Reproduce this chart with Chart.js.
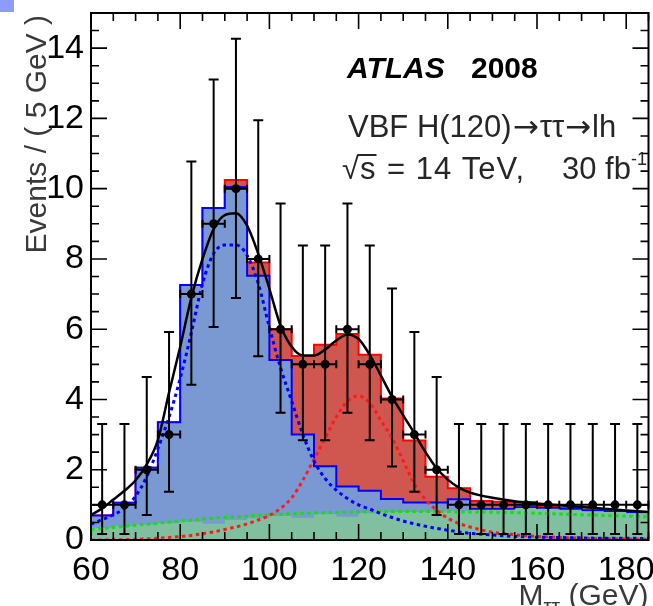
<!DOCTYPE html>
<html>
<head>
<meta charset="utf-8">
<script src="https://cdn.jsdelivr.net/npm/chart.js@4.4.1/dist/chart.umd.min.js"></script>
<style>
  html, body { margin: 0; padding: 0; background: #fff; }
  #wrap { position: relative; width: 653px; height: 606px; }
  #corner { position: absolute; left: 0; top: 0; width: 14px; height: 12px; background: #8c9cf8; }
</style>
</head>
<body>
<div id="wrap">
  <canvas id="chart" width="653" height="606"></canvas>
  <div id="corner"></div>
</div>
<script>
'use strict';

// bins of 5 GeV in M_tautau
const binEdges = [60, 65, 70, 75, 80, 85, 90, 95, 100, 105, 110, 115, 120, 125, 130, 135, 140, 145, 150, 155, 160, 165, 170, 175, 180, 185];
const binCenters = [62.5, 67.5, 72.5, 77.5, 82.5, 87.5, 92.5, 97.5, 102.5, 107.5, 112.5, 117.5, 122.5, 127.5, 132.5, 137.5, 142.5, 147.5, 152.5, 157.5, 162.5, 167.5, 172.5, 177.5, 182.5];

// pseudo-data and its (asymmetric) error bars
const dataCounts = [1, 1, 2, 3, 7, 9, 10, 8, 6, 5, 5, 6, 5, 4, 3, 2, 1, 1, 1, 1, 1, 1, 1, 1, 1];
const errLow = [0.17, 0.17, 0.71, 1.37, 4.42, 6.06, 6.89, 5.23, 3.62, 2.84, 2.84, 3.62, 2.84, 2.09, 1.37, 0.71, 0.17, 0.17, 0.17, 0.17, 0.17, 0.17, 0.17, 0.17, 0.17];
const errHigh = [3.3, 3.3, 4.64, 5.92, 10.77, 13.11, 14.27, 11.95, 9.58, 8.38, 8.38, 9.58, 8.38, 7.16, 5.92, 4.64, 3.3, 3.3, 3.3, 3.3, 3.3, 3.3, 3.3, 3.3, 3.3];

// stacked expectations: signal+Z+bkg (red), Z+bkg (blue), bkg (green)
const totalHist = [0.70, 1.06, 2.06, 3.35, 7.26, 9.45, 10.25, 7.90, 6.00, 5.24, 5.56, 5.86, 5.27, 4.03, 2.83, 1.80, 1.47, 1.11, 1.09, 1.08, 0.97, 0.91, 0.87, 0.83, 0.80];
const zHist = [0.70, 1.06, 2.06, 3.35, 7.26, 9.45, 10.05, 7.52, 5.12, 3.00, 2.10, 1.52, 1.40, 1.17, 1.07, 1.07, 1.16, 0.88, 0.88, 0.93, 0.91, 0.88, 0.84, 0.82, 0.79];
const bkgHist = [0.35, 0.40, 0.44, 0.48, 0.52, 0.46, 0.57, 0.62, 0.68, 0.63, 0.73, 0.66, 0.76, 0.79, 0.80, 0.81, 0.82, 0.86, 0.86, 0.91, 0.89, 0.86, 0.82, 0.80, 0.76];

// fitted curves
const fitX = [60, 62.5, 65, 67.5, 70, 72.5, 75, 77.5, 80, 82.5, 85, 87.5, 90, 92.5, 95, 97.5, 100, 102.5, 105, 107.5, 110, 112.5, 115, 117.5, 120, 122.5, 125, 127.5, 130, 132.5, 135, 137.5, 140, 142.5, 145, 150, 155, 160, 165, 170, 175, 180, 185];
const fitTotal = [0.71, 0.9, 1.15, 1.4, 1.7, 2.15, 2.85, 4.2, 5.5, 6.9, 8.0, 8.85, 9.25, 9.3, 8.95, 8.15, 7.15, 6.1, 5.5, 5.25, 5.25, 5.42, 5.68, 5.85, 5.72, 5.27, 4.68, 4.08, 3.55, 3.04, 2.5, 2.04, 1.72, 1.49, 1.35, 1.2, 1.1, 1.04, 0.99, 0.94, 0.89, 0.84, 0.8];
const fitZ = [0.45, 0.58, 0.72, 0.9, 1.25, 1.8, 2.6, 3.5, 4.6, 5.9, 7.3, 8.15, 8.4, 8.4, 8.1, 7.3, 6.05, 4.9, 3.95, 3.0, 2.25, 1.75, 1.42, 1.18, 1.0, 0.88, 0.75, 0.64, 0.54, 0.46, 0.39, 0.33, 0.28, 0.23, 0.19, 0.14, 0.1, 0.08, 0.07, 0.06, 0.05, 0.05, 0.04];
const fitSignal = [0.0, 0.0, 0.01, 0.01, 0.02, 0.03, 0.05, 0.07, 0.1, 0.13, 0.18, 0.23, 0.3, 0.37, 0.46, 0.57, 0.7, 0.9, 1.2, 1.7, 2.3, 2.9, 3.5, 3.95, 4.1, 3.9, 3.4, 2.9, 2.25, 1.6, 1.15, 0.85, 0.62, 0.47, 0.37, 0.22, 0.15, 0.1, 0.07, 0.05, 0.04, 0.03, 0.02];
const fitBkg = [0.3, 0.33, 0.36, 0.39, 0.42, 0.45, 0.48, 0.51, 0.54, 0.57, 0.6, 0.62, 0.64, 0.66, 0.68, 0.7, 0.72, 0.73, 0.75, 0.76, 0.77, 0.78, 0.79, 0.8, 0.8, 0.81, 0.81, 0.81, 0.81, 0.81, 0.81, 0.81, 0.81, 0.8, 0.8, 0.79, 0.78, 0.76, 0.74, 0.72, 0.7, 0.68, 0.66];

const xTickLabels = [60, 80, 100, 120, 140, 160, 180];
const yTickLabels = [0, 2, 4, 6, 8, 10, 12, 14];

const FONT = '"Liberation Sans", Arial, Helvetica, sans-serif';
const ARROW_FONT = '"DejaVu Sans", sans-serif';
Chart.defaults.font.family = FONT;

function histPoints(vals) {
    let pts = [];
    for (let i = 0; i < vals.length; i++) {
        pts.push({ x: binEdges[i], y: vals[i] });
    }
    pts.push({ x: binEdges[binEdges.length - 1], y: vals[vals.length - 1] });
    return pts;
}

function curvePoints(vals) {
    return fitX.map((x, i) => ({ x: x, y: vals[i] }));
}

// data error bars (vertical + bin width)
const errorBars = {
    id: 'errorBars',
    afterDatasetsDraw(chart) {
        const { ctx, scales: { x, y } } = chart;
        ctx.save();
        ctx.strokeStyle = '#000';
        ctx.lineWidth = 2;
        ctx.beginPath();
        for (let i = 0; i < binCenters.length; i++) {
            const px = x.getPixelForValue(binCenters[i]);
            const py = y.getPixelForValue(dataCounts[i]);
            const lo = y.getPixelForValue(errLow[i]);
            const hi = y.getPixelForValue(errHigh[i]);
            const xl = x.getPixelForValue(binEdges[i]);
            const xr = x.getPixelForValue(binEdges[i + 1]);
            ctx.moveTo(px, lo); ctx.lineTo(px, hi);
            ctx.moveTo(px - 5, lo); ctx.lineTo(px + 5, lo);
            ctx.moveTo(px - 5, hi); ctx.lineTo(px + 5, hi);
            ctx.moveTo(xl, py); ctx.lineTo(xr, py);
            ctx.moveTo(xl, py - 4); ctx.lineTo(xl, py + 4);
            ctx.moveTo(xr, py - 4); ctx.lineTo(xr, py + 4);
        }
        ctx.stroke();
        ctx.restore();
    }
};

// ROOT-like frame with inward ticks on all four sides
const frameTicks = {
    id: 'frameTicks',
    afterDatasetsDraw(chart) {
        const { ctx, chartArea: a, scales: { x, y } } = chart;
        ctx.save();
        ctx.strokeStyle = '#000';
        ctx.lineWidth = 1.6;
        ctx.beginPath();
        for (let v = 60; v <= 185; v += 5) {
            const px = x.getPixelForValue(v);
            const len = (v % 20 === 0) ? 16 : 8;
            ctx.moveTo(px, a.bottom); ctx.lineTo(px, a.bottom - len);
            ctx.moveTo(px, a.top); ctx.lineTo(px, a.top + len);
        }
        for (let v = 0; v <= 15; v += 0.5) {
            const py = y.getPixelForValue(v);
            const len = (v % 2 === 0) ? 16 : 8;
            ctx.moveTo(a.left, py); ctx.lineTo(a.left + len, py);
            ctx.moveTo(a.right, py); ctx.lineTo(a.right - len, py);
        }
        ctx.stroke();
        ctx.lineWidth = 2;
        ctx.strokeRect(a.left, a.top, a.right - a.left, a.bottom - a.top);
        ctx.restore();
    }
};

// draw a run of [text, font, dy, gap] pieces left to right
function drawRun(ctx, pieces, x, y) {
    pieces.forEach(p => {
        ctx.font = p[1];
        ctx.fillText(p[0], x, y + (p[2] || 0));
        x += ctx.measureText(p[0]).width + (p[3] || 0);
    });
    return x;
}

// axis titles and the labels inside the frame
const textBlock = {
    id: 'textBlock',
    afterDraw(chart) {
        const { ctx, chartArea: a } = chart;
        ctx.save();
        ctx.textBaseline = 'alphabetic';

        // y title
        ctx.save();
        ctx.fillStyle = '#3a3a3a';
        ctx.font = '30px ' + FONT;
        ctx.translate(46, 15);
        ctx.rotate(-Math.PI / 2);
        ctx.textAlign = 'right';
        ctx.fillText('Events / ( 5 GeV )', 0, 0);
        ctx.restore();

        // x title: M_tautau (GeV)
        ctx.fillStyle = '#3a3a3a';
        ctx.font = '30px ' + FONT;
        const wM = ctx.measureText('M').width;
        const wG = ctx.measureText(' (GeV)').width;
        ctx.font = '21px ' + FONT;
        const wS = ctx.measureText('ττ').width;
        let xs = a.right - (wM + wS + wG);
        ctx.font = '30px ' + FONT;
        ctx.fillText('M', xs, 605);
        ctx.font = '21px ' + FONT;
        ctx.fillText('ττ', xs + wM, 613);
        ctx.font = '30px ' + FONT;
        ctx.fillText(' (GeV)', xs + wM + wS, 605);

        // ATLAS 2008
        ctx.fillStyle = '#000';
        ctx.font = 'italic bold 30px ' + FONT;
        ctx.fillText('ATLAS', 347, 78);
        ctx.font = 'bold 30px ' + FONT;
        ctx.fillText('2008', 471, 78);

        // process and conditions
        ctx.fillStyle = '#262626';
        const f31 = '31px ' + FONT;
        const fa = '31px ' + ARROW_FONT;
        drawRun(ctx, [
            ['VBF H(120)', f31, 0, 1],
            ['→', fa, 0, 1],
            ['ττ', f31, 0, 1],
            ['→', fa, 0, 1],
            ['lh', f31]
        ], 348, 137);

        ctx.font = f31;
        const wRad = ctx.measureText('√').width;
        const wS2 = ctx.measureText('s').width;
        ctx.fillText('√', 342, 179);
        ctx.fillText('s', 342 + wRad + 1, 179);
        ctx.strokeStyle = '#262626';
        ctx.lineWidth = 2;
        ctx.beginPath();
        ctx.moveTo(342 + wRad - 1, 155);
        ctx.lineTo(342 + wRad + wS2 + 2, 155);
        ctx.stroke();
        ctx.letterSpacing = '1px';
        ctx.fillText('= 14 TeV,', 387, 179);
        ctx.letterSpacing = '0px';
        ctx.fillText('30 fb', 562, 179);
        const wFb = ctx.measureText('30 fb').width;
        ctx.font = '18px ' + FONT;
        ctx.fillText('-1', 562 + wFb, 165);
        ctx.restore();
    }
};

const canvasElem = document.getElementById('chart');

new Chart(canvasElem, {
    type: 'line',
    data: {
        datasets: [
            {
                label: 'data',
                data: binCenters.map((c, i) => ({ x: c, y: dataCounts[i] })),
                showLine: false,
                pointRadius: 4.5,
                pointBackgroundColor: '#000',
                pointBorderWidth: 0,
                order: 0
            },
            {
                label: 'fit total',
                data: curvePoints(fitTotal),
                borderColor: '#000',
                borderWidth: 2.5,
                pointRadius: 0,
                cubicInterpolationMode: 'monotone',
                fill: false,
                order: 1
            },
            {
                label: 'fit Z',
                data: curvePoints(fitZ),
                borderColor: '#0000ff',
                borderWidth: 3,
                borderDash: [3.5, 3.5],
                pointRadius: 0,
                cubicInterpolationMode: 'monotone',
                fill: false,
                order: 2
            },
            {
                label: 'fit signal',
                data: curvePoints(fitSignal),
                borderColor: '#ff1a1a',
                borderWidth: 3,
                borderDash: [3.5, 3.5],
                pointRadius: 0,
                cubicInterpolationMode: 'monotone',
                fill: false,
                order: 3
            },
            {
                label: 'fit bkg',
                data: curvePoints(fitBkg),
                borderColor: '#11e011',
                borderWidth: 3,
                borderDash: [3.5, 3.5],
                pointRadius: 0,
                cubicInterpolationMode: 'monotone',
                fill: false,
                order: 4
            },
            {
                label: 'bkg',
                data: histPoints(bkgHist),
                stepped: 'before',
                borderWidth: 0,
                borderColor: 'rgba(0,0,0,0)',
                backgroundColor: '#80c0a0',
                pointRadius: 0,
                fill: 'origin',
                order: 5
            },
            {
                label: 'Z',
                data: histPoints(zHist),
                stepped: 'before',
                borderWidth: 2,
                borderColor: '#0000ff',
                backgroundColor: '#7a99d2',
                pointRadius: 0,
                fill: 'origin',
                order: 6
            },
            {
                label: 'total',
                data: histPoints(totalHist),
                stepped: 'before',
                borderWidth: 2,
                borderColor: '#ff0000',
                backgroundColor: '#d05650',
                pointRadius: 0,
                fill: 'origin',
                order: 7
            }
        ]
    },
    options: {
        responsive: false,
        animation: false,
        layout: { padding: { left: 0, top: 13, right: 3, bottom: 0 } },
        plugins: {
            legend: { display: false },
            tooltip: { enabled: false }
        },
        scales: {
            x: {
                type: 'linear',
                min: 60,
                max: 185,
                grid: { display: false, drawTicks: false },
                border: { display: false },
                ticks: {
                    stepSize: 20,
                    includeBounds: false,
                    autoSkip: false,
                    maxRotation: 0,
                    padding: 10,
                    color: '#000',
                    font: { size: 34 },
                    callback: (v) => xTickLabels.includes(v) ? String(v) : ''
                },
                afterFit: (s) => { s.height = 66; s.paddingLeft = 0; s.paddingRight = 0; }
            },
            y: {
                min: 0,
                max: 15,
                grid: { display: false, drawTicks: false },
                border: { display: false },
                ticks: {
                    stepSize: 2,
                    includeBounds: false,
                    padding: 7,
                    color: '#000',
                    font: { size: 34 },
                    callback: (v) => yTickLabels.includes(v) ? String(v) : ''
                },
                afterFit: (s) => { s.width = 91; s.paddingTop = 0; s.paddingBottom = 0; }
            }
        }
    },
    plugins: [errorBars, frameTicks, textBlock]
});
</script>
</body>
</html>
